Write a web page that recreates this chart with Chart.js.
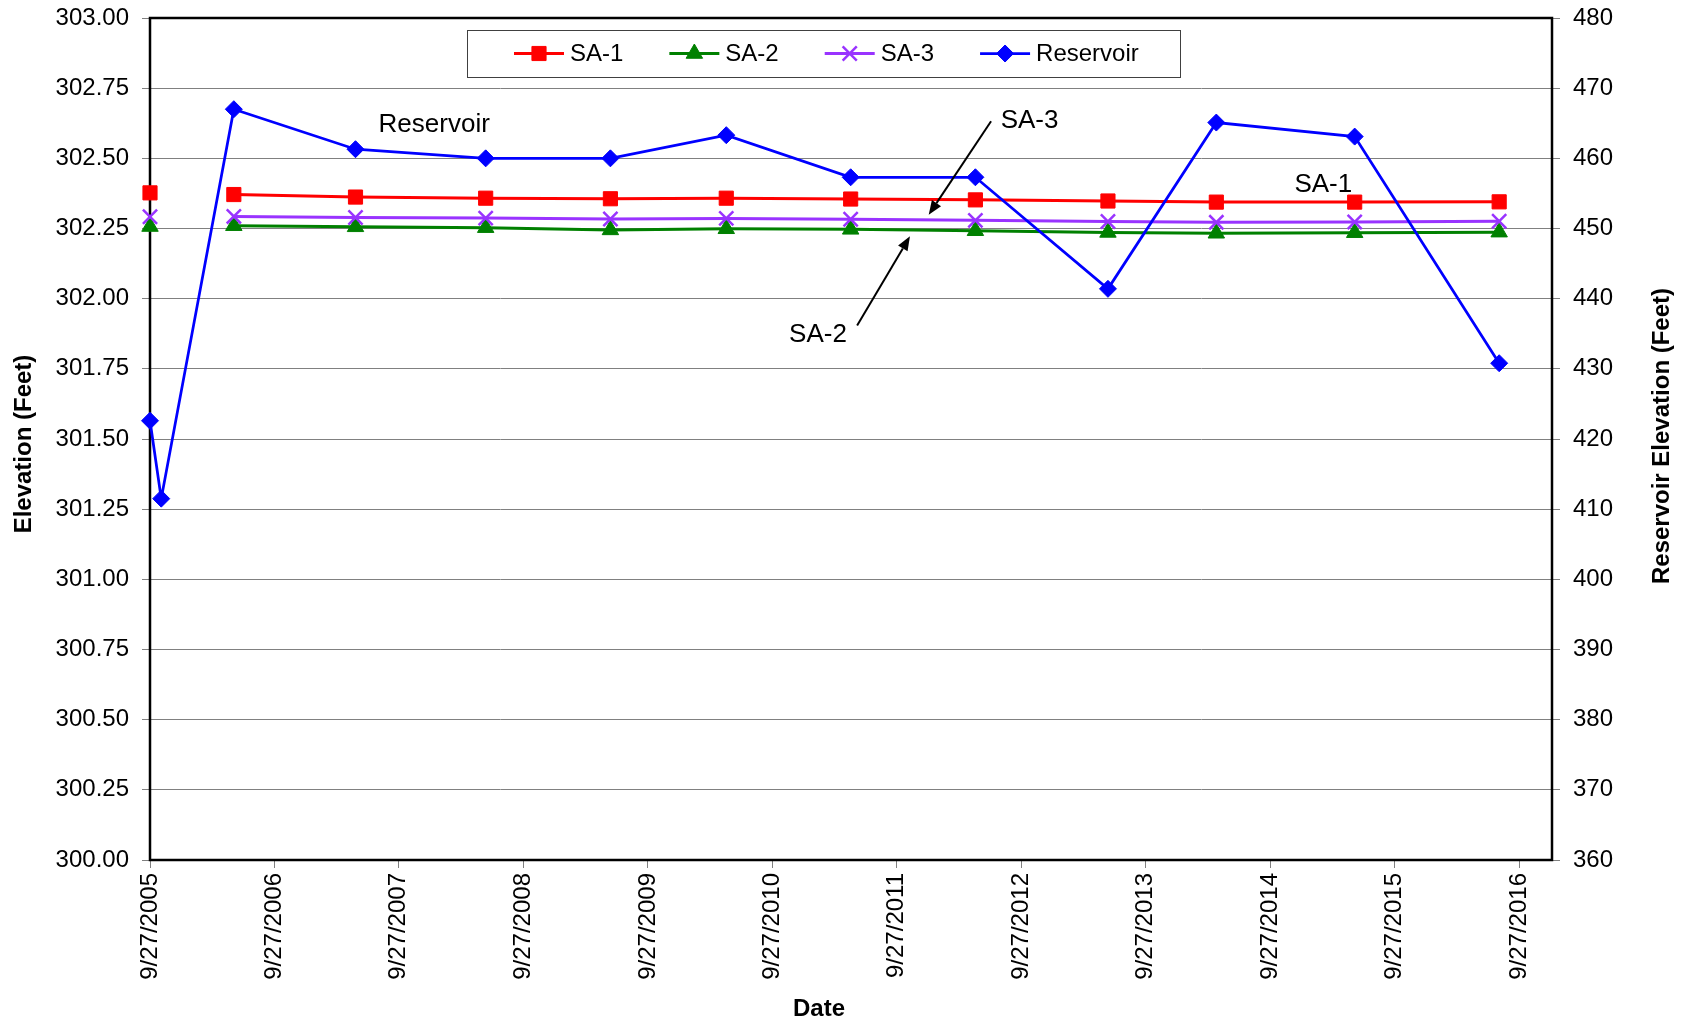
<!DOCTYPE html>
<html>
<head>
<meta charset="utf-8">
<title>Elevation vs Date</title>
<script src="https://cdn.jsdelivr.net/npm/chart.js"></script>
<style>
  html, body { margin: 0; padding: 0; background: #fff; }
</style>
</head>
<body>
<canvas id="myChart" width="1686" height="1022"></canvas>
<script>
// readings taken off the original chart (dates as M/D/YYYY)
const sampleDates = ['9/27/2005', '10/30/2005', '5/31/2006', '5/23/2007', '6/8/2008', '6/9/2009',
  '5/15/2010', '5/15/2011', '5/15/2012', '6/8/2013', '4/22/2014', '6/2/2015', '7/30/2016'];
const sa1 = [302.377, null, 302.371, 302.362, 302.358, 302.356, 302.358, 302.355, 302.352, 302.348, 302.344, 302.344, 302.345];
const sa2 = [302.257, null, 302.260, 302.256, 302.253, 302.245, 302.249, 302.247, 302.242, 302.236, 302.233, 302.235, 302.237];
const sa3 = [302.292, null, 302.293, 302.289, 302.287, 302.284, 302.286, 302.283, 302.279, 302.275, 302.272, 302.273, 302.276];
const reservoir = [422.6, 411.5, 467.0, 461.3, 460.0, 460.0, 463.3, 457.3, 457.3, 441.4, 465.1, 463.1, 430.8];

// axis ticks
const tickDates = ['9/27/2005', '9/27/2006', '9/27/2007', '9/27/2008', '9/27/2009', '9/27/2010',
  '9/27/2011', '9/27/2012', '9/27/2013', '9/27/2014', '9/27/2015', '9/27/2016'];
const axisEndDate = '1/1/2017';
const leftTickLabels = ['300.00', '300.25', '300.50', '300.75', '301.00', '301.25', '301.50',
  '301.75', '302.00', '302.25', '302.50', '302.75', '303.00'];
const rightTickLabels = ['360', '370', '380', '390', '400', '410', '420', '430', '440', '450', '460', '470', '480'];

// text labels + arrows drawn on the plot (in data units)
const notes = [
  { text: 'Reservoir', date: '1/9/2008', value: 302.621 },
  { text: 'SA-3', date: '10/21/2012', value: 302.632 },
  { text: 'SA-2', date: '2/8/2011', value: 301.870 },
  { text: 'SA-1', date: '3/2/2015', value: 302.406 }
];
const arrows = [
  { fromDate: '6/30/2012', fromValue: 302.632, toDate: '12/30/2011', toValue: 302.299 },
  { fromDate: '6/3/2011', fromValue: 301.904, toDate: '11/5/2011', toValue: 302.222 }
];

const FONT = '"Liberation Sans", Arial, sans-serif';

// M/D/YYYY -> day number, so the x axis can be a plain linear scale
function day(s) {
  const p = s.split('/');
  return Date.UTC(+p[2], +p[0] - 1, +p[1]) / 86400000;
}

function points(values) {
  return sampleDates.map((d, i) => ({ x: day(d), y: values[i] }));
}

function drawMarker(ctx, ds, x, y) {
  const r = ds.pointRadius;
  ctx.fillStyle = ds.backgroundColor;
  ctx.strokeStyle = ds.borderColor;
  ctx.lineWidth = ds.pointBorderWidth || 1;
  ctx.beginPath();
  if (ds.pointStyle === 'rect') {
    const s = r * Math.SQRT1_2;
    ctx.rect(x - s, y - s, 2 * s, 2 * s);
    ctx.fill(); ctx.stroke();
  } else if (ds.pointStyle === 'triangle') {
    ctx.moveTo(x, y - r);
    ctx.lineTo(x + r * Math.sin(2 * Math.PI / 3), y + r / 2);
    ctx.lineTo(x - r * Math.sin(2 * Math.PI / 3), y + r / 2);
    ctx.closePath();
    ctx.fill(); ctx.stroke();
  } else if (ds.pointStyle === 'rectRot') {
    ctx.moveTo(x - r, y); ctx.lineTo(x, y - r); ctx.lineTo(x + r, y); ctx.lineTo(x, y + r);
    ctx.closePath();
    ctx.fill(); ctx.stroke();
  } else {
    const o = r * Math.SQRT1_2;
    ctx.moveTo(x - o, y - o); ctx.lineTo(x + o, y + o);
    ctx.moveTo(x + o, y - o); ctx.lineTo(x - o, y + o);
    ctx.stroke();
  }
}

// black frame round the plot area
const frame = {
  id: 'frame',
  beforeDatasetsDraw(chart) {
    const { ctx, chartArea: a } = chart;
    ctx.save();
    ctx.strokeStyle = '#000';
    ctx.lineWidth = 2.5;
    ctx.strokeRect(a.left, a.top, a.right - a.left, a.bottom - a.top);
    ctx.restore();
  }
};

// legend in a box inside the plot, like the original
const boxLegend = {
  id: 'boxLegend',
  afterDraw(chart) {
    const { ctx, chartArea: a } = chart;
    const left = a.left + 317, top = a.top + 12, w = 713, h = 47;
    ctx.save();
    ctx.fillStyle = '#fff';
    ctx.fillRect(left, top, w, h);
    ctx.strokeStyle = '#404040';
    ctx.lineWidth = 1;
    ctx.strokeRect(left + 0.5, top + 0.5, w, h);
    ctx.font = '24px ' + FONT;
    ctx.textBaseline = 'middle';
    let x = left + 47;
    const cy = top + h / 2;
    chart.data.datasets.forEach(ds => {
      ctx.strokeStyle = ds.borderColor;
      ctx.lineWidth = ds.borderWidth;
      ctx.beginPath();
      ctx.moveTo(x, cy);
      ctx.lineTo(x + 50, cy);
      ctx.stroke();
      drawMarker(ctx, ds, x + 25, cy);
      ctx.fillStyle = '#000';
      ctx.fillText(ds.label, x + 56, cy + 1);
      x += 56 + ctx.measureText(ds.label).width + 46;
    });
    ctx.restore();
  }
};

// the callout labels and arrows
const callouts = {
  id: 'callouts',
  afterDatasetsDraw(chart) {
    const { ctx } = chart;
    const xs = chart.scales.x, ys = chart.scales.y;
    ctx.save();
    ctx.fillStyle = '#000';
    ctx.strokeStyle = '#000';
    ctx.font = '26px ' + FONT;
    ctx.textAlign = 'center';
    ctx.textBaseline = 'middle';
    notes.forEach(n => {
      ctx.fillText(n.text, xs.getPixelForValue(day(n.date)), ys.getPixelForValue(n.value));
    });
    ctx.lineWidth = 2;
    arrows.forEach(ar => {
      const x1 = xs.getPixelForValue(day(ar.fromDate)), y1 = ys.getPixelForValue(ar.fromValue);
      const x2 = xs.getPixelForValue(day(ar.toDate)), y2 = ys.getPixelForValue(ar.toValue);
      const ang = Math.atan2(y2 - y1, x2 - x1);
      const len = 14, half = 5.5;
      const bx = x2 - Math.cos(ang) * len, by = y2 - Math.sin(ang) * len;
      ctx.beginPath();
      ctx.moveTo(x1, y1);
      ctx.lineTo(bx, by);
      ctx.stroke();
      ctx.beginPath();
      ctx.moveTo(x2, y2);
      ctx.lineTo(bx + Math.sin(ang) * half, by - Math.cos(ang) * half);
      ctx.lineTo(bx - Math.sin(ang) * half, by + Math.cos(ang) * half);
      ctx.closePath();
      ctx.fill();
    });
    ctx.restore();
  }
};

// axis titles (right one reads bottom-to-top, which Chart.js won't do on its own)
const axisTitles = {
  id: 'axisTitles',
  afterDraw(chart) {
    const { ctx, chartArea: a } = chart;
    const midY = (a.top + a.bottom) / 2;
    ctx.save();
    ctx.fillStyle = '#000';
    ctx.font = 'bold 24px ' + FONT;
    ctx.textAlign = 'center';
    ctx.textBaseline = 'middle';
    ctx.save();
    ctx.translate(a.left - 126, midY + 5);
    ctx.rotate(-Math.PI / 2);
    ctx.fillText('Elevation (Feet)', 0, 0);
    ctx.restore();
    ctx.save();
    ctx.translate(a.right + 110, midY - 3);
    ctx.rotate(-Math.PI / 2);
    ctx.fillText('Reservoir Elevation (Feet)', 0, 0);
    ctx.restore();
    ctx.fillText('Date', (a.left + a.right) / 2 - 32, a.bottom + 149);
    ctx.restore();
  }
};

// fixed axis sizes; drop the label overhang padding so the plot top sits where it should
function fixWidth(w) {
  return s => {
    s.width = w;
    s.paddingTop = 0;
    s.paddingBottom = 0;
  };
}

function makeChart() {
  const tickFont = { family: FONT, size: 24 };
  const ctx = document.getElementById('myChart').getContext('2d');
  new Chart(ctx, {
    type: 'line',
    data: {
      datasets: [
        {
          label: 'SA-1', data: points(sa1), yAxisID: 'y', order: 4,
          borderColor: '#FF0000', backgroundColor: '#FF0000', borderWidth: 3,
          pointStyle: 'rect', pointRadius: 10, pointBorderWidth: 1
        },
        {
          label: 'SA-2', data: points(sa2), yAxisID: 'y', order: 3,
          borderColor: '#008000', backgroundColor: '#008000', borderWidth: 3,
          pointStyle: 'triangle', pointRadius: 9.5, pointBorderWidth: 1
        },
        {
          label: 'SA-3', data: points(sa3), yAxisID: 'y', order: 2,
          borderColor: '#9933FF', backgroundColor: '#9933FF', borderWidth: 3,
          pointStyle: 'crossRot', pointRadius: 10, pointBorderWidth: 2.5
        },
        {
          label: 'Reservoir', data: points(reservoir), yAxisID: 'y1', order: 1,
          borderColor: '#0000FF', backgroundColor: '#0000FF', borderWidth: 2.75,
          pointStyle: 'rectRot', pointRadius: 8.5, pointBorderWidth: 1
        }
      ]
    },
    options: {
      responsive: false,
      animation: false,
      devicePixelRatio: 1,
      spanGaps: false,
      datasets: { line: { clip: false, tension: 0, fill: false } },
      layout: { padding: { top: 18, left: 0, right: 0, bottom: 0 } },
      plugins: { legend: { display: false }, tooltip: { enabled: false } },
      scales: {
        x: {
          type: 'linear',
          min: day(tickDates[0]),
          max: day(axisEndDate),
          afterFit: s => { s.height = 162; },
          afterBuildTicks: s => { s.ticks = tickDates.map(t => ({ value: day(t) })); },
          ticks: {
            autoSkip: false, minRotation: 90, maxRotation: 90, padding: 5,
            color: '#000', font: tickFont,
            callback: (v, i) => tickDates[i]
          },
          grid: { drawOnChartArea: false, drawTicks: true, tickLength: 8, color: '#808080' },
          border: { display: false }
        },
        y: {
          position: 'left',
          min: 300, max: 303,
          afterFit: fixWidth(150),
          afterBuildTicks: s => { s.ticks = leftTickLabels.map(t => ({ value: parseFloat(t) })); },
          ticks: { color: '#000', font: tickFont, padding: 13, callback: (v, i) => leftTickLabels[i] },
          grid: { color: '#808080', lineWidth: 1, tickLength: 8 },
          border: { display: false }
        },
        y1: {
          position: 'right',
          min: 360, max: 480,
          afterFit: fixWidth(134),
          afterBuildTicks: s => { s.ticks = rightTickLabels.map(t => ({ value: parseFloat(t) })); },
          ticks: { color: '#000', font: tickFont, padding: 13, callback: (v, i) => rightTickLabels[i] },
          grid: { drawOnChartArea: false, color: '#808080', tickLength: 8 },
          border: { display: false }
        }
      }
    },
    plugins: [frame, callouts, boxLegend, axisTitles]
  });
}

window.onload = function () {
  makeChart();
};
</script>
</body>
</html>
